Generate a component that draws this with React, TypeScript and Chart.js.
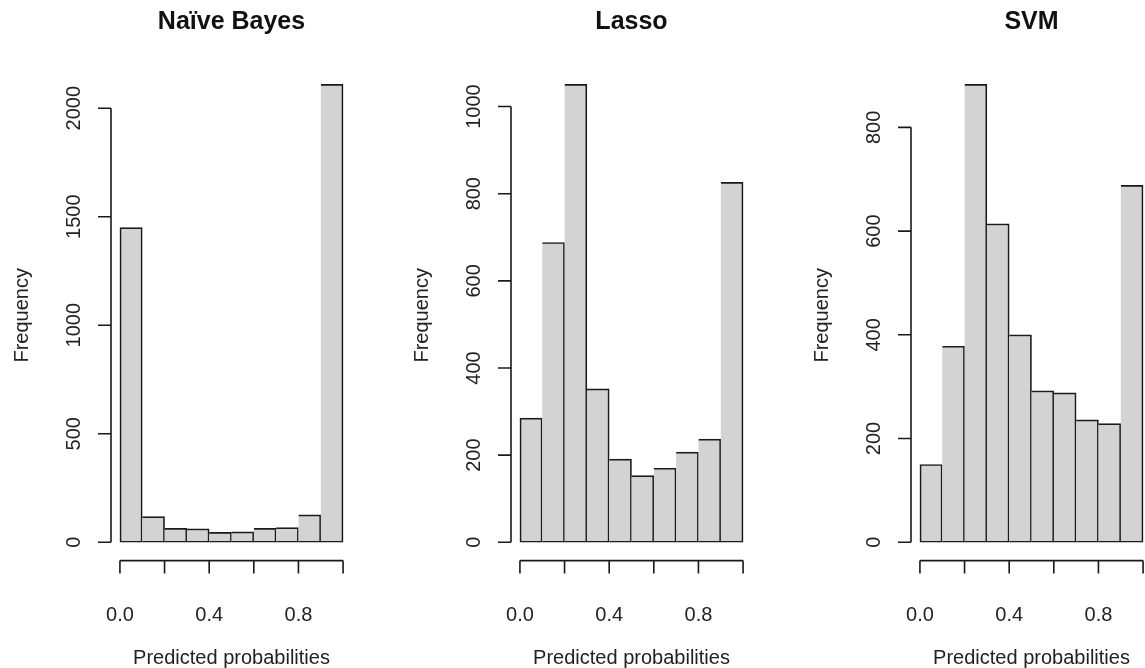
import React, { useEffect, useRef } from "react";
import { Chart, registerables } from "chart.js";

Chart.register(...registerables);

// ---- data ----
const binMids = [0.05, 0.15, 0.25, 0.35, 0.45, 0.55, 0.65, 0.75, 0.85, 0.95];
const panelTitles = ["Naïve Bayes", "Lasso", "SVM"];
const naiveBayesCounts = [1450, 118, 64, 62, 46, 48, 64, 68, 126, 2110];
const lassoCounts = [285, 688, 1051, 352, 191, 153, 170, 207, 237, 826];
const svmCounts = [150, 378, 883, 614, 400, 292, 288, 236, 229, 688];
const naiveBayesYTicks = [0, 500, 1000, 1500, 2000];
const lassoYTicks = [0, 200, 400, 600, 800, 1000];
const svmYTicks = [0, 200, 400, 600, 800];
const xTickValues = [0, 0.2, 0.4, 0.6, 0.8, 1.0];
const xTickLabels = ["0.0", "", "0.4", "", "0.8", ""];
const xAxisLabel = "Predicted probabilities";
const yAxisLabel = "Frequency";

const panelCounts = [naiveBayesCounts, lassoCounts, svmCounts];
const panelYTicks = [naiveBayesYTicks, lassoYTicks, svmYTicks];

const FONT = '"Liberation Sans", Arial, Helvetica, sans-serif';
const PANEL_W = 400;
const PANEL_H = 668;
const TICK = 13;

const rAxesPlugin = {
  id: "rAxes",
  afterDraw(chart: any, _args: any, opts: any) {
    const { ctx, chartArea: a } = chart;
    const x = chart.scales.x;
    const y = chart.scales.y;
    const yt: number[] = opts.yTicks;
    ctx.save();
    ctx.strokeStyle = "#1a1a1a";
    ctx.fillStyle = "#222";
    ctx.lineWidth = 1.6;

    ctx.beginPath();
    // y axis line + ticks
    ctx.moveTo(a.left, y.getPixelForValue(yt[0]));
    ctx.lineTo(a.left, y.getPixelForValue(yt[yt.length - 1]));
    for (const v of yt) {
      const py = y.getPixelForValue(v);
      ctx.moveTo(a.left, py);
      ctx.lineTo(a.left - TICK, py);
    }
    // x axis line + ticks
    ctx.moveTo(x.getPixelForValue(xTickValues[0]), a.bottom);
    ctx.lineTo(x.getPixelForValue(xTickValues[xTickValues.length - 1]), a.bottom);
    for (const v of xTickValues) {
      const px = x.getPixelForValue(v);
      ctx.moveTo(px, a.bottom);
      ctx.lineTo(px, a.bottom + TICK);
    }
    ctx.stroke();

    // y tick labels (rotated)
    ctx.font = `20px ${FONT}`;
    ctx.textAlign = "center";
    ctx.textBaseline = "alphabetic";
    for (const v of yt) {
      const py = y.getPixelForValue(v);
      ctx.save();
      ctx.translate(a.left - 31, py);
      ctx.rotate(-Math.PI / 2);
      ctx.fillText(String(v), 0, 0);
      ctx.restore();
    }
    // x tick labels
    xTickValues.forEach((v, i) => {
      if (!xTickLabels[i]) return;
      ctx.fillText(xTickLabels[i], x.getPixelForValue(v), a.bottom + 60);
    });
    // x axis label
    const cx = (a.left + a.right) / 2;
    ctx.fillText(xAxisLabel, cx, a.bottom + 103);
    // y axis label
    ctx.save();
    ctx.translate(a.left - 83, (a.top + a.bottom) / 2 + 2);
    ctx.rotate(-Math.PI / 2);
    ctx.fillText(yAxisLabel, 0, 0);
    ctx.restore();
    // title
    ctx.fillStyle = "#111";
    ctx.font = `bold 25px ${FONT}`;
    ctx.fillText(opts.title, cx, 28.5);
    ctx.restore();
  },
};

function Panel({ index }: { index: number }) {
  const ref = useRef<HTMLCanvasElement | null>(null);
  useEffect(() => {
    const counts = panelCounts[index];
    const maxCount = Math.max(...counts);
    const chart = new Chart(ref.current as HTMLCanvasElement, {
      type: "bar",
      data: {
        datasets: [
          {
            data: binMids.map((m, i) => ({ x: m, y: counts[i] })),
            backgroundColor: "#D3D3D3",
            borderColor: "#1a1a1a",
            borderWidth: 1.7,
            borderSkipped: (c: any) => (c.dataIndex === 0 ? false : "left"),
            barPercentage: 1,
            categoryPercentage: 1,
          } as any,
        ],
      },
      options: {
        responsive: false,
        animation: false,
        layout: { padding: { left: 111, right: 48, top: 66, bottom: 107.4 } },
        scales: {
          x: { type: "linear", min: -0.04, max: 1.04, offset: false, display: false },
          y: { type: "linear", min: -0.04 * maxCount, max: 1.04 * maxCount, display: false },
        },
        plugins: {
          legend: { display: false },
          tooltip: { enabled: false },
          rAxes: { yTicks: panelYTicks[index], title: panelTitles[index] },
        } as any,
      },
      plugins: [rAxesPlugin],
    });
    return () => chart.destroy();
  }, [index]);
  return (
    <canvas
      ref={ref}
      width={PANEL_W}
      height={PANEL_H}
      style={{ position: "absolute", left: index * PANEL_W, top: 0, width: PANEL_W, height: PANEL_H }}
    />
  );
}

export default function App() {
  return (
    <div
      style={{
        position: "absolute",
        left: 0,
        top: 0,
        width: 1145,
        height: 668,
        overflow: "hidden",
        background: "#fff",
      }}
    >
      {panelTitles.map((_, i) => (
        <Panel key={i} index={i} />
      ))}
    </div>
  );
}
